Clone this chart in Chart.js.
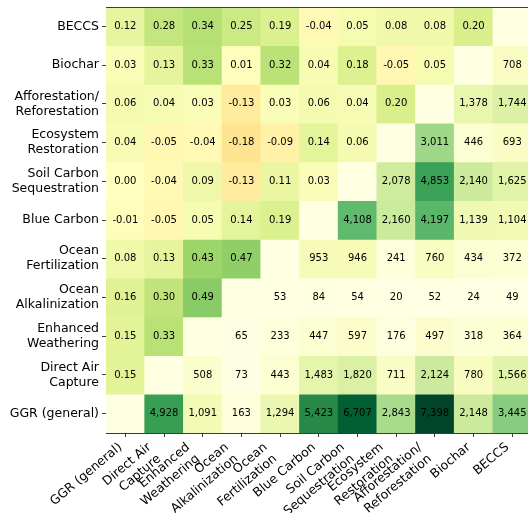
<!DOCTYPE html>
<html>
<head>
<meta charset="utf-8">
<script src="https://cdn.jsdelivr.net/npm/chart.js@4.4.1/dist/chart.umd.min.js"></script>
<style>
  html, body { margin: 0; padding: 0; background: #fff; overflow: hidden; }
  #wrap { width: 528px; height: 513px; overflow: hidden; position: relative; }
  canvas { display: block; }
</style>
</head>
<body>
<div id="wrap"><canvas id="c" width="540" height="513"></canvas></div>
<script>
// Removal methods, in column order (left to right); rows run the same list bottom to top.
const methods = [
  'GGR (general)', 'Direct Air\nCapture', 'Enhanced\nWeathering', 'Ocean\nAlkalinization',
  'Ocean\nFertilization', 'Blue Carbon', 'Soil Carbon\nSequestration', 'Ecosystem\nRestoration',
  'Afforestation/\nReforestation', 'Biochar', 'BECCS'
];

// Rows from top to bottom. Left of the diagonal: correlations; right of it: co-occurrence counts.
const rowBECCS        = [0.12, 0.28, 0.34, 0.25, 0.19, -0.04, 0.05, 0.08, 0.08, 0.20, null];
const rowBiochar      = [0.03, 0.13, 0.33, 0.01, 0.32, 0.04, 0.18, -0.05, 0.05, null, 708];
const rowAfforest     = [0.06, 0.04, 0.03, -0.13, 0.03, 0.06, 0.04, 0.20, null, 1378, 1744];
const rowEcosystem    = [0.04, -0.05, -0.04, -0.18, -0.09, 0.14, 0.06, null, 3011, 446, 693];
const rowSoilCarbon   = [0.00, -0.04, 0.09, -0.13, 0.11, 0.03, null, 2078, 4853, 2140, 1625];
const rowBlueCarbon   = [-0.01, -0.05, 0.05, 0.14, 0.19, null, 4108, 2160, 4197, 1139, 1104];
const rowOceanFert    = [0.08, 0.13, 0.43, 0.47, null, 953, 946, 241, 760, 434, 372];
const rowOceanAlk     = [0.16, 0.30, 0.49, null, 53, 84, 54, 20, 52, 24, 49];
const rowEnhanced     = [0.15, 0.33, null, 65, 233, 447, 597, 176, 497, 318, 364];
const rowDAC          = [0.15, null, 508, 73, 443, 1483, 1820, 711, 2124, 780, 1566];
const rowGGR          = [null, 4928, 1091, 163, 1294, 5423, 6707, 2843, 7398, 2148, 3445];

const rowsTopDown = [rowBECCS, rowBiochar, rowAfforest, rowEcosystem, rowSoilCarbon,
  rowBlueCarbon, rowOceanFert, rowOceanAlk, rowEnhanced, rowDAC, rowGGR];

const N = methods.length;
const isCount = (r, c) => r + c > N - 1;
const isDiag = (r, c) => r + c === N - 1;

let countMax = 0;
rowsTopDown.forEach((row, r) => row.forEach((v, c) => { if (isCount(r, c)) countMax = Math.max(countMax, v); }));

// Colour ramps
const YLGN = ['#ffffe5', '#f7fcb9', '#d9f0a3', '#addd8e', '#78c679', '#41ab5d', '#238443', '#006837', '#004529'];
const RDYLGN = ['#a50026', '#d73027', '#f46d43', '#fdae61', '#fee08b', '#ffffbf', '#d9ef8b', '#a6d96a', '#66bd63', '#1a9850', '#006837'];
function hexRgb(h) { return [1, 3, 5].map(i => parseInt(h.slice(i, i + 2), 16)); }
function ramp(stops, t) {
  t = Math.max(0, Math.min(1, t));
  const p = t * (stops.length - 1);
  const i = Math.min(Math.floor(p), stops.length - 2);
  const f = p - i;
  const a = hexRgb(stops[i]), b = hexRgb(stops[i + 1]);
  const m = a.map((x, k) => Math.round(x + (b[k] - x) * f));
  return `rgb(${m[0]},${m[1]},${m[2]})`;
}
function cellColor(r, c, v) {
  if (isDiag(r, c)) return '#ffffe2';
  if (isCount(r, c)) return ramp(YLGN, v / countMax);
  return ramp(RDYLGN, (v + 1) / 2);
}
function cellText(r, c, v) {
  if (isDiag(r, c)) return '';
  if (isCount(r, c)) return v.toLocaleString('en-US');
  return v.toFixed(2);
}

// One floating-bar dataset per row; bar spans its row band on the y scale.
const datasets = rowsTopDown.map((row, r) => {
  const band = N - 1 - r;
  return {
    label: methods[band],
    data: row.map(() => [band, band + 1]),
    backgroundColor: row.map((v, c) => cellColor(r, c, v)),
    texts: row.map((v, c) => cellText(r, c, v)),
    borderWidth: 0,
    barPercentage: 1,
    categoryPercentage: 1
  };
});

Chart.defaults.font.family = "'DejaVu Sans', sans-serif";
Chart.defaults.color = '#000';

const spineColor = '#3a3a3a';
const labelFont = 12.5;
const xLabelAngle = 40 * Math.PI / 180;

const cellLabels = {
  id: 'cellLabels',
  afterDatasetsDraw(chart) {
    const ctx = chart.ctx;
    ctx.save();
    ctx.font = "10px 'DejaVu Sans'";
    ctx.fillStyle = '#000';
    ctx.textAlign = 'center';
    ctx.textBaseline = 'middle';
    chart.data.datasets.forEach((ds, di) => {
      chart.getDatasetMeta(di).data.forEach((el, i) => {
        const t = ds.texts[i];
        if (t) ctx.fillText(t, el.x, (el.y + el.base) / 2);
      });
    });
    ctx.restore();
  }
};

// Top spine plus rotated column labels (right edge of each rotated block at its tick)
const frameAndColumns = {
  id: 'frameAndColumns',
  afterDraw(chart) {
    const ctx = chart.ctx;
    const a = chart.chartArea;
    ctx.save();
    ctx.strokeStyle = spineColor;
    ctx.lineWidth = 1;
    ctx.beginPath();
    ctx.moveTo(a.left, a.top + 0.5);
    ctx.lineTo(a.right, a.top + 0.5);
    ctx.stroke();

    const xs = chart.scales.x;
    const lh = labelFont * 1.2;
    const cs = Math.cos(xLabelAngle), sn = Math.sin(xLabelAngle);
    const y0 = a.bottom + 4 + 3;
    ctx.font = labelFont + "px 'DejaVu Sans'";
    ctx.fillStyle = '#000';
    ctx.textAlign = 'right';
    ctx.textBaseline = 'middle';
    methods.forEach((name, i) => {
      const lines = name.split('\n');
      const w = Math.max(...lines.map(s => ctx.measureText(s).width));
      const h = lines.length * lh;
      const xt = xs.getPixelForValue(i);
      const ox = xt - (w * cs + h * sn);
      const oy = y0 + w * sn;
      ctx.save();
      ctx.translate(ox, oy);
      ctx.rotate(-xLabelAngle);
      lines.forEach((s, k) => ctx.fillText(s, w, k * lh + lh / 2));
      ctx.restore();
    });
    ctx.restore();
  }
};

new Chart(document.getElementById('c'), {
  type: 'bar',
  data: { labels: methods, datasets },
  options: {
    responsive: false,
    animation: false,
    layout: { padding: { top: 7, right: 8.4, left: 0, bottom: 0 } },
    plugins: { legend: { display: false }, tooltip: { enabled: false } },
    scales: {
      x: {
        type: 'category',
        stacked: true,
        offset: true,
        grid: { display: true, drawOnChartArea: false, drawTicks: true, tickLength: 4, tickColor: spineColor, offset: false },
        border: { display: true, color: spineColor, width: 1 },
        ticks: { display: false },
        afterFit(scale) { scale.height = 80; scale.paddingLeft = 0; scale.paddingRight = 0; }
      },
      y: {
        type: 'linear',
        min: 0,
        max: N,
        grid: { display: true, drawOnChartArea: false, drawTicks: true, tickLength: 4, tickColor: spineColor },
        border: { display: true, color: spineColor, width: 1 },
        afterBuildTicks(scale) { scale.ticks = methods.map((_, i) => ({ value: i + 0.5 })); },
        ticks: {
          autoSkip: false,
          padding: 3,
          color: '#000',
          font: { size: labelFont, lineHeight: 1.2 },
          callback: (v) => methods[Math.floor(v)].split('\n')
        },
        afterFit(scale) { scale.width = 106; scale.paddingTop = 0; scale.paddingBottom = 0; }
      }
    }
  },
  plugins: [cellLabels, frameAndColumns]
});
</script>
</body>
</html>
